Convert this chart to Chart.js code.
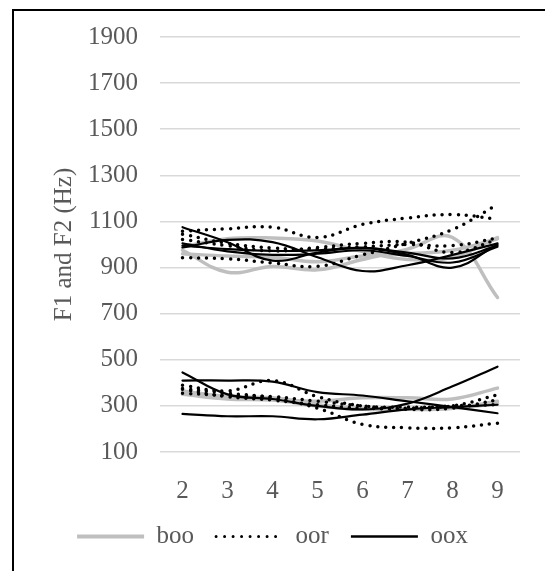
<!DOCTYPE html>
<html lang="en">
<head>
<meta charset="UTF-8">
<title>F1 and F2</title>
<style>
    body {
        margin: 0;
        padding: 0;
        background: #fff;
        overflow: hidden;
    }
    .wrap {
        position: relative;
        width: 545px;
        height: 571px;
    }
    /* cropped frame of the original figure: only top and left edges show */
    .frame {
        position: absolute;
        top: 9px;
        left: 12px;
        width: 600px;
        height: 620px;
        border-top: 2px solid #000;
        border-left: 2px solid #000;
        pointer-events: none;
    }
</style>
</head>
<body>
<div class="wrap">
    <canvas id="formantChart" width="545" height="571"></canvas>
    <div class="frame"></div>
</div>

<script src="https://cdn.jsdelivr.net/npm/chart.js"></script>
<script>
const labels = ['2', '3', '4', '5', '6', '7', '8', '9'];
const yMin = 100;
const yMax = 1900;
const yStep = 200;

// boo (grey)
const booF2a = [975, 880, 905, 890, 935, 980, 1030, 770];
const booF2b = [990, 1025, 1028, 1015, 970, 935, 945, 1030];
const booF2c = [960, 950, 945, 925, 950, 960, 975, 1025];
const booF1a = [360, 335, 330, 320, 335, 335, 330, 377];
const booF1b = [350, 330, 325, 300, 285, 285, 290, 310];
const booF1c = [365, 340, 335, 305, 290, 285, 290, 320];

// oor (dotted)
const oorF2a = [1058, 1068, 1075, 1030, 1087, 1115, 1130, 1110];
const oorF2b = [943, 938, 920, 905, 955, 1005, 1065, 1173];
const oorF2c = [1022, 995, 972, 987, 1005, 1010, 965, 1022];
const oorF2d = [1045, 1005, 985, 980, 990, 1000, 995, 1028];
const oorF1a = [375, 355, 335, 290, 220, 205, 205, 225];
const oorF1b = [390, 365, 410, 340, 300, 295, 300, 348];
const oorF1c = [355, 345, 340, 320, 300, 285, 290, 326];
const oorF1d = [372, 340, 325, 305, 290, 290, 300, 305];

// oox (solid black)
const ooxF2a = [1075, 1010, 930, 965, 985, 955, 900, 1000];
const ooxF2b = [987, 1020, 1010, 945, 885, 910, 955, 1005];
const ooxF2c = [995, 980, 972, 975, 985, 965, 940, 995];
const ooxF2d = [1005, 970, 955, 960, 975, 950, 922, 990];
const ooxF1a = [445, 350, 330, 300, 285, 310, 385, 470];
const ooxF1b = [410, 410, 405, 360, 345, 320, 295, 268];
const ooxF1c = [265, 255, 255, 242, 262, 285, 295, 305];

const groups = [
    { name: 'boo', color: '#bfbfbf', width: 3.5, dash: [], order: 3,
      series: [booF2a, booF2b, booF2c, booF1a, booF1b, booF1c] },
    { name: 'oor', color: '#000000', width: 3.5, dash: [0, 8], order: 2,
      series: [oorF2a, oorF2b, oorF2c, oorF2d, oorF1a, oorF1b, oorF1c, oorF1d] },
    { name: 'oox', color: '#000000', width: 2.2, dash: [], order: 1,
      series: [ooxF2a, ooxF2b, ooxF2c, ooxF2d, ooxF1a, ooxF1b, ooxF1c] }
];

const datasets = [];
groups.forEach(g => {
    g.series.forEach(s => {
        datasets.push({
            label: g.name,
            data: s,
            borderColor: g.color,
            backgroundColor: g.color,
            borderWidth: g.width,
            borderDash: g.dash,
            borderCapStyle: 'round',
            pointRadius: 0,
            tension: 0.4,
            fill: false,
            order: g.order
        });
    });
});

const textColor = '#595959';
const font = { family: "'Liberation Serif', 'Times New Roman', serif", size: 25 };

new Chart(document.getElementById('formantChart'), {
    type: 'line',
    data: { labels: labels, datasets: datasets },
    options: {
        responsive: false,
        animation: false,
        layout: { padding: { top: 37, left: 0, right: 0, bottom: 12 } },
        plugins: {
            tooltip: { enabled: false },
            legend: {
                position: 'bottom',
                labels: {
                    usePointStyle: true,
                    pointStyleWidth: 67,
                    padding: 22,
                    color: textColor,
                    font: font,
                    generateLabels: () => groups.map(g => ({
                        text: g.name,
                        fillStyle: g.color,
                        strokeStyle: g.color,
                        lineWidth: g.name === 'oor' ? 3 : (g.name === 'boo' ? 4 : 2.5),
                        lineDash: g.name === 'oor' ? [0, 8.5] : [],
                        lineCap: g.name === 'oor' ? 'round' : 'butt',
                        pointStyle: 'line',
                        fontColor: textColor,
                        hidden: false
                    }))
                }
            }
        },
        scales: {
            x: {
                offset: true,
                grid: { display: false },
                border: { display: false },
                ticks: { color: textColor, font: font, padding: 16, maxRotation: 0 },
                afterFit: s => { s.height = 50; }
            },
            y: {
                min: yMin,
                max: yMax,
                grid: { color: '#d9d9d9', lineWidth: 1.5, drawTicks: false },
                border: { display: false },
                ticks: {
                    stepSize: yStep,
                    color: textColor,
                    font: font,
                    padding: 22,
                    callback: v => String(v)
                },
                title: {
                    display: true,
                    text: 'F1 and F2 (Hz)',
                    color: textColor,
                    font: font,
                    padding: { top: 49, bottom: 0 }
                },
                afterFit: s => { s.width = 160; }
            },
            yRight: {
                position: 'right',
                display: true,
                grid: { display: false },
                border: { display: false },
                ticks: { display: false },
                afterFit: s => { s.width = 25; }
            }
        }
    }
});
</script>
</body>
</html>
